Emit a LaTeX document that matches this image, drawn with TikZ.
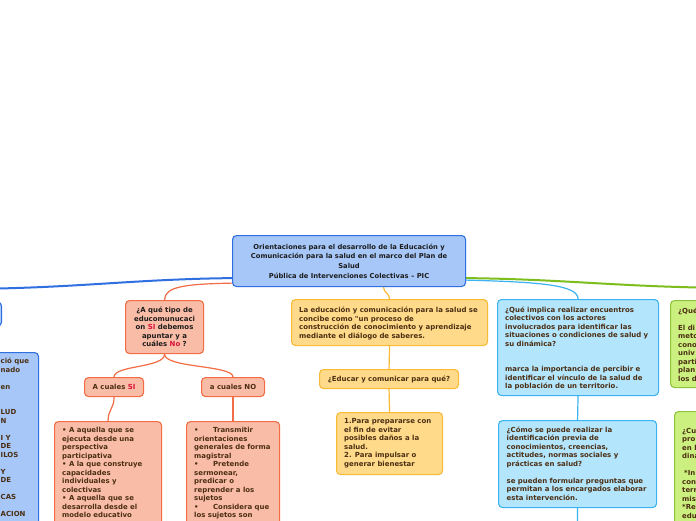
\documentclass[tikz,border=0pt]{standalone}
\usepackage{fontspec}
\newfontfamily\vf{DejaVu Sans}
\usetikzlibrary{calc,backgrounds}
\definecolor{cbluefill}{HTML}{A6C7F8}
\definecolor{cblueline}{HTML}{2F6FE0}
\definecolor{csalfill}{HTML}{F9BCA7}
\definecolor{csalline}{HTML}{F26D45}
\definecolor{cyelfill}{HTML}{FEDA8A}
\definecolor{cyelline}{HTML}{F9BA36}
\definecolor{ccyanfill}{HTML}{B3E5FC}
\definecolor{ccyanline}{HTML}{3BB3F0}
\definecolor{climefill}{HTML}{CCF07F}
\definecolor{climeline}{HTML}{8CC43C}
\definecolor{cgreenline}{HTML}{7DBE1C}
\definecolor{tbrown}{HTML}{4B2E12}
\definecolor{tdark}{HTML}{1C1C1C}
\definecolor{tred}{HTML}{D9123A}
\begin{document}
\begin{tikzpicture}[x=1pt,y=-1pt,
  box/.style={draw, rounded corners=4pt, line width=1.1pt, inner sep=0pt, anchor=north west},
  bluebox/.style={box, fill=cbluefill, draw=cblueline},
  salbox/.style={box, fill=csalfill, draw=csalline},
  yelbox/.style={box, fill=cyelfill, draw=cyelline},
  cyanbox/.style={box, fill=ccyanfill, draw=ccyanline},
  limebox/.style={box, fill=climefill, draw=climeline},
  txt/.style={inner sep=0pt, anchor=north west, align=left, text=tbrown,
    font=\vf\bfseries\fontsize{6.95}{8.5}\selectfont},
  ctxt/.style={align=center, text=tbrown, font=\vf\bfseries\fontsize{6.95}{8.5}\selectfont},
  thick line/.style={line width=2pt},
  thin line/.style={line width=1.2pt}
]
\useasboundingbox (0,0) rectangle (696,520);

% ---------- nodes ----------
\node[bluebox, minimum width=233pt, minimum height=51pt, align=center, text=tdark,
  font=\vf\bfseries\fontsize{6.75}{9.6}\selectfont] (central) at (232,235)
  {Orientaciones para el desarrollo de la Educación y\\
   Comunicación para la salud en el marco del Plan de\\
   Salud\\
   Pública de Intervenciones Colectivas – PIC};

% left partial boxes
\node[bluebox, minimum width=40pt, minimum height=24pt] (lsl) at (-39,301.5) {};
\node[bluebox, minimum width=80pt, minimum height=200pt] (lbig) at (-42,352) {};
\node[txt] (lbigT) at (0.5,358)
  {ció que\\ nado\\[8.5pt] en\\[17pt] LUD\\ N\\[8.5pt] I Y\\ DE\\ ILOS\\[8.5pt] Y\\ DE\\[8.5pt] CAS\\[8.5pt] ACION};

% salmon branch
\node[salbox, minimum width=78pt, minimum height=53pt, align=center, text=tdark,
  font=\vf\bfseries\fontsize{6.95}{8.4}\selectfont] (q2) at (125,300)
  {¿A qué tipo de\\ educomunucaci\\ on \textcolor{tred}{SI} debemos\\ apuntar y a\\ cuáles \textcolor{tred}{No} ?};
\node[salbox, minimum width=59pt, minimum height=19pt, ctxt] (siN) at (84,377)
  {A cuales \textcolor{tred}{SI}};
\node[salbox, minimum width=63pt, minimum height=19pt, ctxt] (noN) at (201,377)
  {a cuales NO};
\node[salbox, minimum width=107pt, minimum height=120pt] (siBox) at (54,421) {};
\node[txt] (siT) at (62,427.3)
  {• A aquella que se\\ ejecuta desde una\\ perspectiva\\ participativa\\
   • A la que construye\\ capacidades\\ individuales y\\ colectivas\\
   • A aquella que se\\ desarrolla desde el\\ modelo educativo};
\node[salbox, minimum width=93pt, minimum height=120pt] (noBox) at (186,421) {};
\node[txt] (noT) at (194,427.3)
  {•\hspace{14.5pt}Transmitir\\ orientaciones\\ generales de forma\\ magistral\\
   •\hspace{14.5pt}Pretende\\ sermonear,\\ predicar o\\ reprender a los\\ sujetos\\
   •\hspace{14.5pt}Considera que\\ los sujetos son};

% yellow branch
\node[yelbox, minimum width=196pt, minimum height=46pt] (y1) at (291,299) {};
\node[txt] (y1T) at (299,307)
  {La educación y comunicación para la salud se\\ concibe como "un proceso de\\
   construcción de conocimiento y aprendizaje\\ mediante el diálogo de saberes.};
\node[yelbox, minimum width=139pt, minimum height=19pt, ctxt] (y2) at (319,369)
  {¿Educar y comunicar para qué?};
\node[yelbox, minimum width=106pt, minimum height=62pt] (y3) at (336,412) {};
\node[txt] (y3T) at (344,418.7)
  {1.Para prepararse con\\ el fin de evitar\\ posibles daños a la\\ salud.\\
   2. Para impulsar o\\ generar bienestar};

% cyan branch
\node[cyanbox, minimum width=161pt, minimum height=96pt] (c1) at (497,299) {};
\node[txt] (c1T) at (505,306.7)
  {¿Qué implica realizar encuentros\\ colectivos con los actores\\
   involucrados para identificar las\\ situaciones o condiciones de salud y\\
   su dinámica?\\[17pt]
   marca la importancia de percibir e\\ identificar el vínculo de la salud de\\
   la población de un territorio.};
\node[cyanbox, minimum width=158pt, minimum height=87pt] (c2) at (498,420) {};
\node[txt] (c2T) at (506.5,426.7)
  {¿Cómo se puede realizar la\\ identificación previa de\\ conocimientos, creencias,\\
   actitudes, normas sociales y\\ prácticas en salud?\\[8.5pt]
   se pueden formular preguntas que\\ permitan a los encargados elaborar\\
   esta intervención.};

% lime branch
\node[limebox, minimum width=60pt, minimum height=87pt] (g1) at (670,300) {};
\node[txt] (g1T) at (678,307.7)
  {¿Qué\\[8.5pt] El di\\ meto\\ cono\\ univ\\ parti\\ plan\\ los d};
\node[limebox, minimum width=60pt, minimum height=130pt] (g2) at (674,411) {};
\node[txt] (g2T) at (682,427.7)
  {¿Cu\\ pro\\ en l\\ dina\\[8.5pt] \hspace{2pt}*In\\ con\\ terr\\ mis\\ *Re\\ edu\\ acc};

\coordinate (bl) at (-2,288.5);
\coordinate (gr) at (698,287.5);
\coordinate (cend) at (577.5,522);

% ---------- connectors ----------
\begin{pgfonlayer}{background}
\fill[white] (0,0) rectangle (696,520);
\draw[thick line, cblueline] ([yshift=9pt]central.south west) .. controls +(-90,1) and +(90,-2) .. (bl);
\draw[thick line, cgreenline] ([yshift=9pt]central.south east) .. controls +(90,1) and +(-90,-2) .. (gr);
\draw[thin line, csalline] ([yshift=4pt]central.south west) .. controls +(-45,1) and +(0,-14) .. (q2.north);
\draw[thin line, ccyanline] ([yshift=7pt]central.south east) .. controls +(75,2) and +(0,-14) .. (c1.north);
\draw[thin line, cyelline] ([xshift=34.5pt]central.south) .. controls +(0,6) and +(0,-6) .. (y1.north);
\draw[thin line, csalline] (q2.south) .. controls +(0,14) and +(0,-12) .. (siN.north);
\draw[thin line, csalline] (q2.south) .. controls +(0,14) and +(0,-12) .. (noN.north);
\draw[thin line, csalline] (siN.south) .. controls +(0,12) and +(0,-12) .. (siBox.north);
\draw[thin line, csalline] (noN.south) -- (noBox.north);
\draw[thin line, cyelline] (y1.south) -- (y2.north);
\draw[thin line, cyelline] (y2.south) -- (y3.north);
\draw[thin line, ccyanline] (c1.south) -- (c2.north);
\draw[thin line, ccyanline] (c2.south) -- (cend);
\end{pgfonlayer}
\end{tikzpicture}
\end{document}
